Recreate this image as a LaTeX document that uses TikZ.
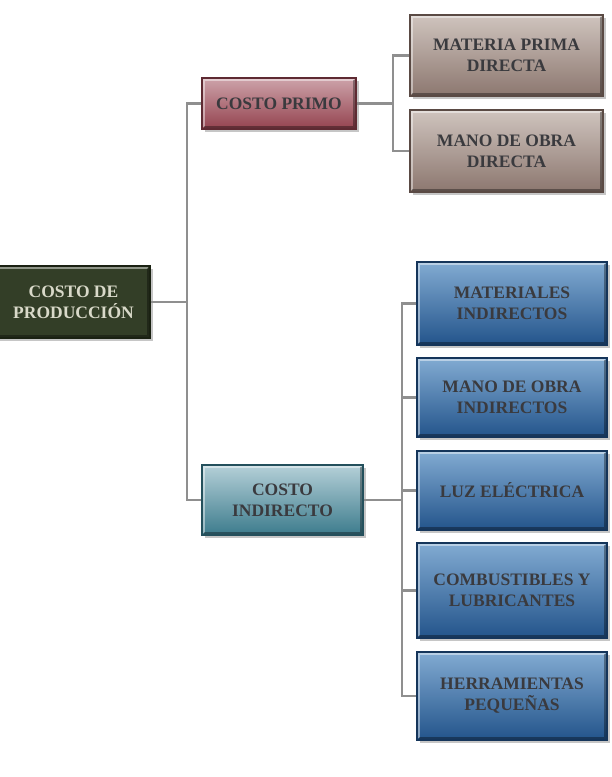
\documentclass[tikz,border=0pt]{standalone}
\usepackage{fontspec}
\setmainfont{Liberation Serif}
\usetikzlibrary{shadows}

\definecolor{conncol}{HTML}{8F8F8F}
\definecolor{rootfill}{HTML}{333E27}
\definecolor{rootedge}{HTML}{1A2112}
\definecolor{roottext}{HTML}{D9D9C9}
\definecolor{primotop}{HTML}{CDA3AA}
\definecolor{primobot}{HTML}{94434F}
\definecolor{primoedge}{HTML}{5E2A32}
\definecolor{taupetop}{HTML}{CFC4BE}
\definecolor{taupebot}{HTML}{8C776F}
\definecolor{taupeedge}{HTML}{5A4A44}
\definecolor{tealtop}{HTML}{B5D0D8}
\definecolor{tealbot}{HTML}{3C7B8C}
\definecolor{tealedge}{HTML}{24505C}
\definecolor{bluetop}{HTML}{82ABD2}
\definecolor{bluebot}{HTML}{23548B}
\definecolor{blueedge}{HTML}{15355A}
\definecolor{darktext}{HTML}{3A3A3E}

\tikzset{
  box/.style={rectangle, align=center, line width=1.2pt,
    font=\bfseries\fontsize{17.5}{21}\selectfont, text=darktext,
    drop shadow={shadow xshift=2.5pt, shadow yshift=-2.5pt, opacity=0.45},
    % bevel: light upper-left rim, dark lower-right rim
    path picture={
      \draw[white, opacity=0.45, line width=2pt]
        ([shift={(2pt,2pt)}]path picture bounding box.south west)
        |- ([shift={(-2pt,-2pt)}]path picture bounding box.north east);
      \draw[black, opacity=0.35, line width=2pt]
        ([shift={(2pt,2pt)}]path picture bounding box.south west)
        -| ([shift={(-2pt,-2pt)}]path picture bounding box.north east);
    }},
  rootbox/.style={box, fill=rootfill, draw=rootedge, text=roottext},
  primobox/.style={box, top color=primotop, bottom color=primobot, draw=primoedge},
  taupebox/.style={box, top color=taupetop, bottom color=taupebot, draw=taupeedge},
  tealbox/.style={box, top color=tealtop, bottom color=tealbot, draw=tealedge},
  bluebox/.style={box, top color=bluetop, bottom color=bluebot, draw=blueedge},
  conn/.style={draw=conncol, line width=2.2pt},
}

\begin{document}
\begin{tikzpicture}[x=1pt, y=-1pt]
\useasboundingbox (0,0) rectangle (612,777);

% level 0
\node[rootbox, minimum width=153pt, minimum height=72pt] (root) at (73.5,302) {COSTO DE\\PRODUCCIÓN};

% level 1
\node[primobox, minimum width=154pt, minimum height=51pt] (primo) at (279,103.5) {COSTO PRIMO};
\node[tealbox, minimum width=161pt, minimum height=70pt] (indirecto) at (282.5,500) {COSTO\\INDIRECTO};

% direct costs
\node[taupebox, minimum width=193pt, minimum height=81pt] (mpd) at (506.5,55.5) {MATERIA PRIMA\\DIRECTA};
\node[taupebox, minimum width=193pt, minimum height=82pt] (mod) at (506.5,151) {MANO DE OBRA\\DIRECTA};

% indirect costs
\node[bluebox, minimum width=190pt, minimum height=83pt] (mi) at (512,303.5) {MATERIALES\\INDIRECTOS};
\node[bluebox, minimum width=190pt, minimum height=79pt] (moi) at (512,397.5) {MANO DE OBRA\\INDIRECTOS};
\node[bluebox, minimum width=190pt, minimum height=79pt] (luz) at (512,490.5) {LUZ ELÉCTRICA};
\node[bluebox, minimum width=190pt, minimum height=95pt] (cyl) at (512,590.5) {COMBUSTIBLES Y\\LUBRICANTES};
\node[bluebox, minimum width=190pt, minimum height=88pt] (hp) at (512,696) {HERRAMIENTAS\\PEQUEÑAS};

% branch columns
\coordinate (b1) at (187,0);
\coordinate (b2) at (393,0);
\coordinate (b3) at (402,0);

\draw[conn] (root.east) -- (root.east -| b1);
\draw[conn] (primo.west) -| (b1 |- indirecto.west) -- (indirecto.west);

\draw[conn] (primo.east) -- (primo.east -| b2);
\draw[conn] (mpd.west) -| (b2 |- mod.west) -- (mod.west);

\draw[conn] (indirecto.east) -- (indirecto.east -| b3);
\draw[conn] (mi.west) -| (b3 |- hp.west) -- (hp.west);
\draw[conn] (b3 |- moi.west) -- (moi.west);
\draw[conn] (b3 |- luz.west) -- (luz.west);
\draw[conn] (b3 |- cyl.west) -- (cyl.west);
\end{tikzpicture}
\end{document}
